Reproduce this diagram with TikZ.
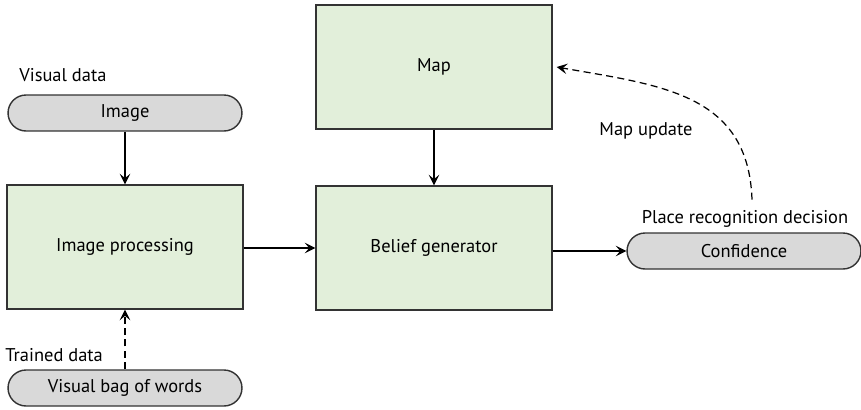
\documentclass[tikz,border=0pt]{standalone}
\usepackage{fontspec}
\setmainfont{PT Sans}
\usetikzlibrary{arrows.meta}
\definecolor{boxgreen}{RGB}{226,239,218}
\definecolor{pillgray}{RGB}{217,217,217}
\definecolor{linegray}{RGB}{51,51,51}
\begin{document}
\begin{tikzpicture}[x=0.02cm,y=-0.02cm,font=\fontsize{10.5}{12}\selectfont]
	\tikzset{block/.style={draw=linegray,fill=boxgreen,line width=0.8pt,minimum width=4.72cm,minimum height=2.48cm,inner sep=0pt}}
	\tikzset{pill/.style={draw=linegray,fill=pillgray,line width=0.8pt,rounded corners=0.36cm,minimum width=4.68cm,minimum height=0.72cm,inner sep=0pt}}
	\tikzset{flow/.style={-{Stealth[length=6pt,width=6pt,inset=2.5pt]},line width=0.7pt,draw=black}}
	\tikzset{dashflow/.style={flow,dash pattern=on 4pt off 2.5pt}}
	\useasboundingbox (0,0) rectangle (861,409);

	\node[block] (map) at (434,67) {Map};
	\node[block] (belief) at (434,248) {Belief generator};
	\node[block] (improc) at (125,247) {Image processing};
	\node[pill] (image) at (125,113) {Image};
	\node[pill] (bow) at (125,388) {Visual bag of words};
	\node[pill] (conf) at (744,251) {Confidence};

	\node[anchor=base west,inner sep=0pt] (vislbl) at (19,81) {Visual data};
	\node[anchor=base west,inner sep=0pt] (trainlbl) at (5,361) {Trained data};
	\node[anchor=base,inner sep=0pt] (declbl) at (745,223) {Place recognition decision};
	\node[anchor=base,inner sep=0pt] (updlbl) at (646,135) {Map update};

	\draw[flow] (image) -- (improc);
	\draw[dashflow] (bow) -- (improc);
	\draw[flow] (improc.east |- belief.west) -- (belief.west);
	\draw[flow] (map) -- (belief);
	\draw[flow] (belief.east |- conf.west) -- (conf.west);
	\draw[dashflow] ([xshift=0.14cm,yshift=0.2cm]declbl.north) to[out=92,in=-10,looseness=1.15] ([xshift=0.08cm]map.east);
\end{tikzpicture}
\end{document}
